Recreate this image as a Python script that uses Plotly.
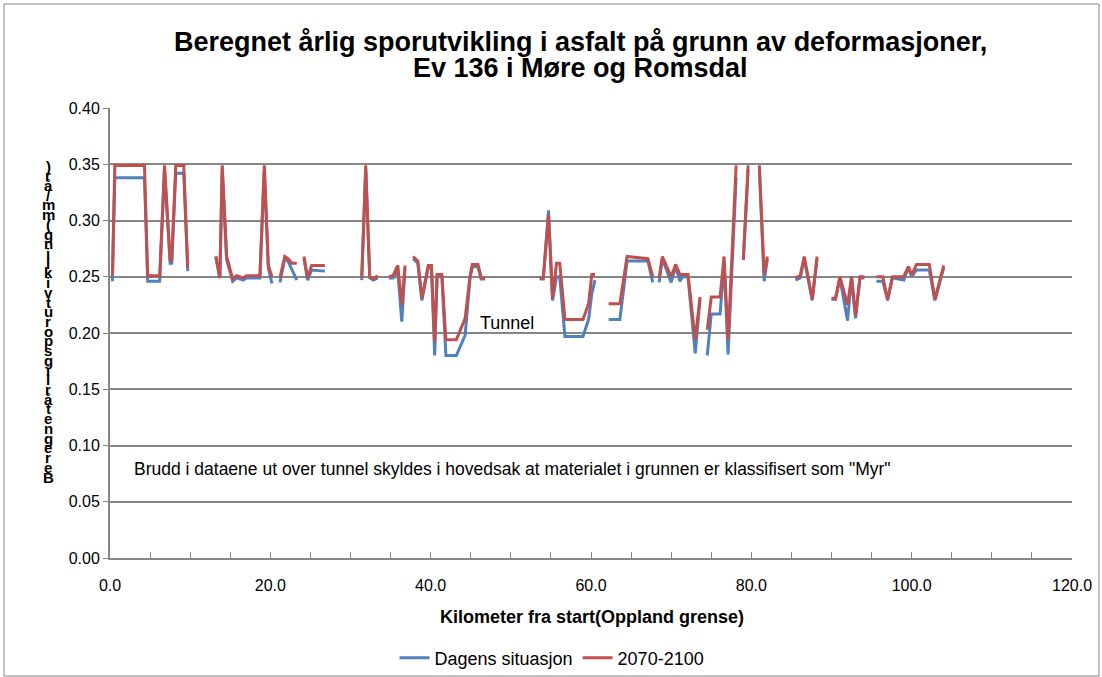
"""
Beregnet årlig sporutvikling, Ev 136 i Møre og Romsdal
"""

import plotly.graph_objects as go

# km from start; None marks a break in the data
km = [
    0.3, 0.6, 4.3, 4.7, 6.2, 6.8, 7.5, 7.7, 8.2, 9.2, 9.7, None,
    13.2, 13.7, 14.0, 14.55, 15.3, 15.8, 16.6, 17.05, 18.7, 19.25, 19.75, 20.2, None,
    21.2, 21.8, 22.2, 22.7, 23.3, None,
    24.2, 24.65, 25.15, 26.8, None,
    31.4, 31.9, 32.4, 32.85, 33.4, None,
    34.8, 35.3, 35.9, 36.4, 36.8, None,
    37.8, 38.4, 38.9, 39.7, 40.1, 40.5, 40.8, 41.4, 41.9, 43.2, 44.3, 44.9, 45.2, 45.9, 46.3, 46.8, None,
    53.6, 54.05, 54.7, 55.2, 55.7, 56.1, 56.75, 59.0, 59.7, 60.1, 60.5, None,
    62.2, 63.6, 64.5, 67.1, 67.7, None,
    68.5, 68.9, 70.0, 70.55, 71.1, 71.4, 72.1, 73.0, 73.6, None,
    74.5, 75.0, 76.1, 76.6, 77.1, 78.1, None,
    79.0, 79.6, None,
    81.0, 81.6, 82.0, None,
    85.5, 86.1, 86.6, 87.6, 88.2, None,
    90.0, 90.5, 91.05, 92.0, 92.5, 93.0, 93.55, 94.1, None,
    95.6, 96.4, 97.0, 97.6, 99.0, 99.6, 100.0, 100.6, 102.2, 102.9, 104.0,
]

dagens = [
    0.246, 0.338, 0.338, 0.246, 0.246, 0.345, 0.262, 0.262, 0.342, 0.342, 0.255, None,
    0.268, 0.249, 0.345, 0.265, 0.246, 0.249, 0.247, 0.249, 0.249, 0.345, 0.258, 0.244, None,
    0.245, 0.266, 0.264, 0.256, 0.247, None,
    0.266, 0.247, 0.256, 0.255, None,
    0.247, 0.345, 0.249, 0.247, 0.249, None,
    0.249, 0.249, 0.255, 0.210, 0.258, None,
    0.266, 0.262, 0.229, 0.258, 0.258, 0.180, 0.250, 0.250, 0.180, 0.180, 0.198, 0.248, 0.259, 0.259, 0.248, 0.248, None,
    0.248, 0.248, 0.309, 0.229, 0.250, 0.250, 0.197, 0.197, 0.212, 0.235, 0.247, None,
    0.212, 0.212, 0.264, 0.264, 0.245, None,
    0.245, 0.266, 0.245, 0.259, 0.246, 0.250, 0.250, 0.182, 0.230, None,
    0.180, 0.217, 0.217, 0.262, 0.181, 0.338, None,
    0.265, 0.345, None,
    0.345, 0.246, 0.266, None,
    0.247, 0.249, 0.266, 0.229, 0.266, None,
    0.230, 0.230, 0.249, 0.211, 0.249, 0.213, 0.249, 0.249, None,
    0.246, 0.246, 0.229, 0.249, 0.247, 0.258, 0.250, 0.256, 0.256, 0.229, 0.258,
]

framtid = [
    0.251, 0.349, 0.349, 0.251, 0.251, 0.349, 0.265, 0.265, 0.349, 0.349, 0.258, None,
    0.268, 0.249, 0.349, 0.268, 0.248, 0.251, 0.249, 0.251, 0.251, 0.349, 0.260, 0.250, None,
    0.249, 0.268, 0.266, 0.262, 0.262, None,
    0.268, 0.249, 0.260, 0.260, None,
    0.249, 0.349, 0.250, 0.248, 0.251, None,
    0.250, 0.251, 0.260, 0.225, 0.260, None,
    0.268, 0.264, 0.231, 0.260, 0.260, 0.192, 0.252, 0.252, 0.194, 0.194, 0.213, 0.250, 0.261, 0.261, 0.249, 0.249, None,
    0.249, 0.249, 0.305, 0.231, 0.262, 0.262, 0.212, 0.212, 0.226, 0.252, 0.252, None,
    0.226, 0.226, 0.268, 0.266, 0.250, None,
    0.249, 0.268, 0.250, 0.261, 0.252, 0.252, 0.252, 0.194, 0.232, None,
    0.203, 0.232, 0.232, 0.268, 0.194, 0.349, None,
    0.265, 0.349, None,
    0.349, 0.252, 0.268, None,
    0.249, 0.251, 0.268, 0.230, 0.268, None,
    0.231, 0.231, 0.250, 0.225, 0.250, 0.215, 0.250, 0.250, None,
    0.250, 0.250, 0.230, 0.250, 0.250, 0.259, 0.2516, 0.261, 0.261, 0.230, 0.260,
]

title_lines = ["Beregnet årlig sporutvikling i asfalt på grunn av deformasjoner,",
               "Ev 136 i Møre og Romsdal"]
y_title = "Beregnet årlig sporutvikling (mm/år)"
note = 'Brudd i dataene ut over tunnel skyldes i hovedsak at materialet i grunnen er klassifisert som "Myr"'

FONT = "Liberation Sans, Arial, sans-serif"
GRID = "#868686"

# plot area in page pixels
W, H = 1102, 677
L, R, T, B = 110, 1072, 108, 558


def px_x(p):
    return (p - L) / (R - L)


def px_y(p):
    return (B - p) / (B - T)


fig = go.Figure()

fig.add_trace(go.Scatter(x=km, y=dagens, name="Dagens situasjon", mode="lines",
                         line=dict(color="#4F81BD", width=3), connectgaps=False))
fig.add_trace(go.Scatter(x=km, y=framtid, name="2070-2100", mode="lines",
                         line=dict(color="#C0504D", width=3), connectgaps=False))

fig.update_layout(
    width=W, height=H,
    margin=dict(l=L, r=W - R, t=T, b=H - B, autoexpand=False),
    paper_bgcolor="white", plot_bgcolor="white",
    font=dict(family=FONT, size=16, color="black"),
    legend=dict(orientation="h", xref="container", yref="container",
                x=552 / W, xanchor="center", y=1 - 658 / H, yanchor="middle",
                font=dict(size=18), itemwidth=30, bgcolor="rgba(0,0,0,0)"),
    showlegend=True,
)

fig.update_xaxes(
    range=[0, 120], dtick=20, tickformat=".1f",
    showgrid=False, zeroline=False,
    showline=True, linecolor=GRID, linewidth=2,
    ticks="inside", ticklen=6, tickcolor=GRID, tickwidth=1,
    minor=dict(dtick=5, ticks="inside", ticklen=6, tickcolor=GRID),
    ticklabelstandoff=12,
)
fig.update_yaxes(
    range=[0, 0.4], dtick=0.05, tickformat=".2f",
    showgrid=True, gridcolor=GRID, gridwidth=2,
    zeroline=False, showline=True, linecolor=GRID, linewidth=2,
    ticks="outside", ticklen=5, tickcolor=GRID,
)

for line, py in zip(title_lines, [42, 68]):
    fig.add_annotation(text="<b>" + line + "</b>", xref="paper", yref="paper",
                       x=px_x(580), y=px_y(py), showarrow=False,
                       font=dict(size=27), xanchor="center", yanchor="middle")

fig.add_annotation(text="<b>Kilometer fra start(Oppland grense)</b>", xref="paper", yref="paper",
                   x=px_x(592), y=px_y(617), showarrow=False,
                   font=dict(size=18), xanchor="center", yanchor="middle")

# vertical stacked axis title, characters from bottom to top (spaces take no room)
chars = [c for c in y_title if c != " "]
n = len(chars)
top_px, bot_px = 166, 477
for i, ch in enumerate(chars):
    py = bot_px - i * (bot_px - top_px) / (n - 1)
    fig.add_annotation(text="<b>" + ch + "</b>", xref="paper", yref="paper",
                       x=px_x(48), y=px_y(py), showarrow=False,
                       font=dict(size=15), xanchor="center", yanchor="middle")

fig.add_annotation(text="Tunnel", x=49.5, y=0.209, showarrow=False,
                   font=dict(size=18), xanchor="center", yanchor="middle")
fig.add_annotation(text=note, xref="paper", yref="paper", x=px_x(132), y=px_y(469),
                   showarrow=False, font=dict(size=17.5), xanchor="left", yanchor="middle")

# chart border
fig.add_shape(type="rect", xref="paper", yref="paper",
              x0=px_x(4), x1=px_x(1099), y0=px_y(676), y1=px_y(4),
              line=dict(color=GRID, width=1))

fig.write_html("out.html", config={"displayModeBar": False},
               post_script="document.body.style.margin='0px';")
